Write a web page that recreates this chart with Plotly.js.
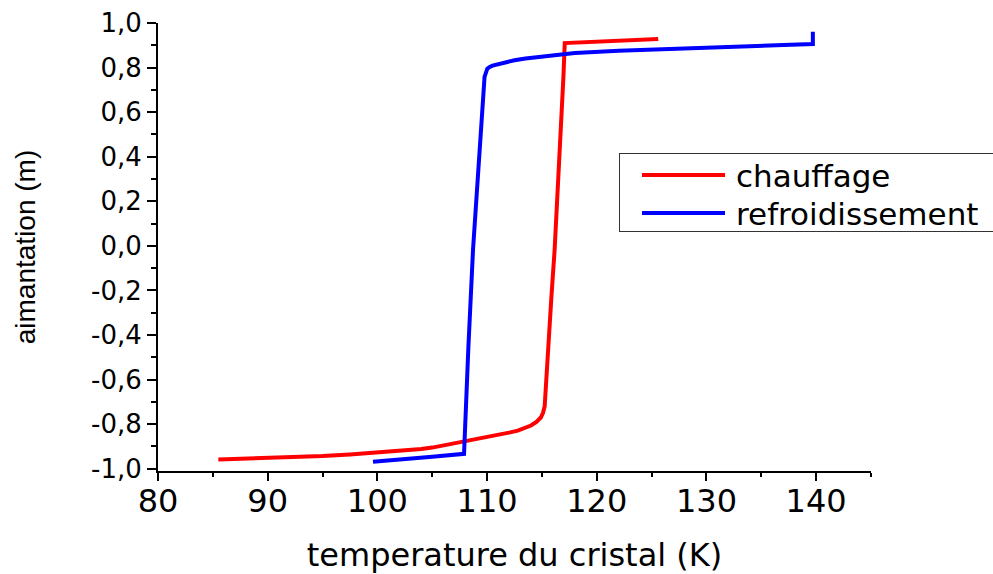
<!DOCTYPE html>
<html>
<head>
<meta charset="utf-8">
<script src="https://cdn.plot.ly/plotly-3.0.1.min.js"></script>
<style>html,body{margin:0;padding:0;background:#fff;}#chart{width:993px;height:574px;}</style>
</head>
<body>
<div id="chart"></div>
<script>
// chauffage (heating)
var heatT = [85.5, 88, 90, 92.5, 95, 97.5, 100, 102.5, 104, 105, 106, 107, 108, 109, 110, 111, 112, 112.8, 113.5, 114, 114.5, 114.9, 115.1, 115.25, 115.4, 115.55, 115.85, 116.16, 116.4, 116.62, 116.8, 116.96, 117.08, 119, 121, 123, 125.6];
var heatM = [-0.958, -0.955, -0.952, -0.948, -0.943, -0.936, -0.928, -0.918, -0.911, -0.905, -0.896, -0.886, -0.876, -0.867, -0.858, -0.848, -0.838, -0.829, -0.818, -0.806, -0.79, -0.77, -0.749, -0.72, -0.6, -0.463, -0.24, -0.016, 0.2, 0.387, 0.58, 0.758, 0.91, 0.915, 0.919, 0.923, 0.928];
// refroidissement (cooling)
var coolT = [139.7, 139.7, 137, 132, 127, 122, 118, 116, 115, 113.5, 112.5, 111.5, 111, 110.5, 110.2, 110.02, 109.77, 109.34, 108.72, 108.3, 107.9, 107.9, 105, 102.5, 99.6];
var coolM = [0.961, 0.906, 0.901, 0.893, 0.885, 0.876, 0.865, 0.856, 0.851, 0.841, 0.833, 0.823, 0.817, 0.809, 0.802, 0.795, 0.758, 0.432, -0.016, -0.45, -0.879, -0.933, -0.946, -0.957, -0.969];

var xTickVals = [80, 90, 100, 110, 120, 130, 140];
var xTickText = ['80', '90', '100', '110', '120', '130', '140'];
var yTickVals = [-1.0, -0.8, -0.6, -0.4, -0.2, 0.0, 0.2, 0.4, 0.6, 0.8, 1.0];
var yTickText = ['-1,0', '-0,8', '-0,6', '-0,4', '-0,2', '0,0', '0,2', '0,4', '0,6', '0,8', '1,0'];

var FONT = '"DejaVu Sans", "Liberation Sans", Arial, sans-serif';
var FONT2 = '"Liberation Sans", Arial, sans-serif';

var traces = [
  {x: heatT, y: heatM, mode: 'lines', name: 'chauffage', line: {color: '#ff0000', width: 4}},
  {x: coolT, y: coolM, mode: 'lines', name: 'refroidissement', line: {color: '#0000ff', width: 4}}
];

var layout = {
  width: 993, height: 574,
  margin: {l: 158, r: 122, t: 23, b: 103, autoexpand: false},
  paper_bgcolor: '#ffffff', plot_bgcolor: '#ffffff',
  font: {family: FONT, color: '#000000'},
  showlegend: true,
  legend: {
    x: 0.6466, y: 0.71, xanchor: 'left', yanchor: 'top',
    bordercolor: '#333333', borderwidth: 1, bgcolor: '#ffffff',
    font: {family: FONT, size: 31, color: '#000000'},
    itemwidth: 89, tracegroupgap: 0
  },
  xaxis: {
    range: [80, 145], showgrid: false, zeroline: false,
    showline: true, linecolor: '#000000', linewidth: 2,
    ticks: 'outside', ticklen: 8, tickwidth: 2, tickcolor: '#000000',
    tickvals: xTickVals, ticktext: xTickText,
    tickfont: {family: FONT, size: 32, color: '#000000'},
    ticklabelstandoff: -7,
    minor: {ticks: 'outside', ticklen: 4, tickwidth: 2, tickcolor: '#000000', dtick: 5, showgrid: false},
    title: {text: 'temperature du cristal (K)', font: {family: FONT, size: 32, color: '#000000'}, standoff: 24},
    automargin: false
  },
  yaxis: {
    range: [-1.01, 1.0], showgrid: false, zeroline: false,
    showline: true, linecolor: '#000000', linewidth: 2,
    ticks: 'outside', ticklen: 9, tickwidth: 2, tickcolor: '#000000',
    tickvals: yTickVals, ticktext: yTickText,
    tickfont: {family: FONT, size: 26, color: '#000000'},
    minor: {ticks: 'outside', ticklen: 5, tickwidth: 2, tickcolor: '#000000', dtick: 0.1, showgrid: false},
    title: {text: 'aimantation (m)', font: {family: FONT2, size: 28, color: '#000000'}, standoff: 47},
    automargin: false
  }
};

Plotly.newPlot('chart', traces, layout, {staticPlot: true, displayModeBar: false}).then(function () {
  var leg = document.querySelector('.legend');
  if (!leg) return;
  var bg = leg.querySelector('rect.bg');
  var targetsY = [175, 213];
  var items = leg.querySelectorAll('g.traces');
  items.forEach(function (g, i) {
    var p = g.querySelector('path.js-line');
    if (p) p.setAttribute('d', 'M5,0h83');
    var t = g.getAttribute('transform') || 'translate(0,0)';
    var m = /translate\(\s*([-\d.e]+)[ ,]+([-\d.e]+)\s*\)/.exec(t);
    if (!m || !p) return;
    var tx = parseFloat(m[1]), ty = parseFloat(m[2]);
    var r = p.getBoundingClientRect();
    var dy = targetsY[i] - (r.top + r.height / 2);
    var dx = 642 - r.left;
    g.setAttribute('transform', 'translate(' + (tx + dx) + ',' + (ty + dy) + ')');
  });
  bg.setAttribute('height', 78);
  bg.setAttribute('width', 420);
  document.querySelectorAll('clipPath[id^="legend"] rect').forEach(function (r) {
    r.setAttribute('width', 420);
    r.setAttribute('height', 80);
  });
});
</script>
</body>
</html>
